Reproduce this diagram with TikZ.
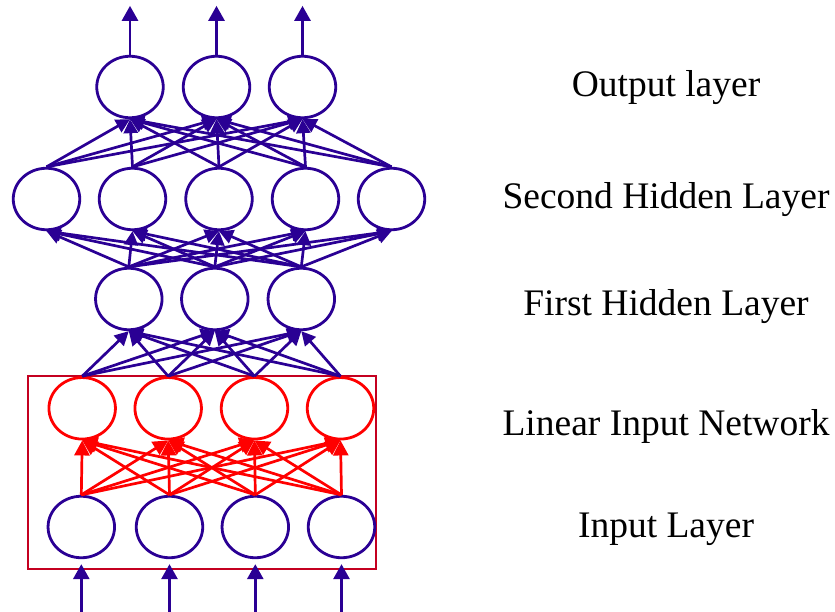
\documentclass[tikz,border=0pt]{standalone}
\usepackage{fontspec}
\setmainfont{Liberation Serif}
\usetikzlibrary{arrows.meta}
\usetikzlibrary{shapes.geometric}

\definecolor{netblue}{RGB}{42,0,148}
\definecolor{netred}{RGB}{255,0,0}
\definecolor{boxred}{RGB}{196,0,32}

\tikzset{
  neuron/.style={ellipse, draw=netblue, line width=2.8pt, minimum width=66.5pt, minimum height=61.5pt, inner sep=0pt},
  linneuron/.style={neuron, draw=netred},
  edge/.style={draw=netblue, line width=2.7pt, -{Triangle[length=14pt,width=14pt]}},
  linedge/.style={edge, draw=netred, -{Triangle[length=15pt,width=15pt]}},
  io/.style={draw=netblue, line width=2.8pt, -{Triangle[length=15pt,width=16pt]}},
  lbl/.style={anchor=base, inner sep=0pt, font=\fontsize{37.5}{45}\selectfont}
}

\begin{document}
\begin{tikzpicture}[x=1pt, y=-1pt]
\useasboundingbox (0,0) rectangle (835,612);
\draw [boxred, line width=2.4pt] (28,376) rectangle (376,569);
\foreach \x [count=\i] in {130,216.5,302.5} \node[neuron] (out\i) at (\x,87) {};
\foreach \x [count=\i] in {46.5,132.5,219,305.5,391.5} \node[neuron] (hidB\i) at (\x,199) {};
\foreach \x [count=\i] in {128.8,214.8,301.3} \node[neuron] (hidA\i) at (\x,299) {};
\foreach \x [count=\i] in {82.2,168.2,254.5,340.5} \node[linneuron] (lin\i) at (\x,408.3) {};
\foreach \x [count=\i] in {81.3,169.5,255.3,341.5} \node[neuron] (in\i) at (\x,527) {};
\foreach \i in {1,...,4} \foreach \j in {1,...,4} \draw[linedge] (in\i.north) -- (lin\j.south);
\foreach \i in {1,...,4} \foreach \j in {1,...,3} \draw[edge] (lin\i.north) -- (hidA\j.south);
\foreach \i in {1,...,3} \foreach \j in {1,...,5} \draw[edge] (hidA\i.north) -- (hidB\j.south);
\foreach \i in {1,...,5} \foreach \j in {1,...,3} \draw[edge] (hidB\i.north) -- (out\j.south);
\foreach \i in {1,...,4} {
  \path (in\i.south) ++(0,54) coordinate (src\i);
  \draw[io, shorten >=5pt] (src\i) -- (in\i.south);
}
\foreach \i in {1,...,3} {
  \path (out\i.north) ++(0,-49) coordinate (dst\i);
  \draw[io] (out\i.north) -- (dst\i);
}
\node[lbl] (lblOut) at (666,97) {Output layer};
\node[lbl] (lblHidB) at (666,209) {Second Hidden Layer};
\node[lbl] (lblHidA) at (666,315) {First Hidden Layer};
\node[lbl] (lblLin) at (666,435) {Linear Input Network};
\node[lbl] (lblIn) at (666,537) {Input Layer};
\end{tikzpicture}
\end{document}
